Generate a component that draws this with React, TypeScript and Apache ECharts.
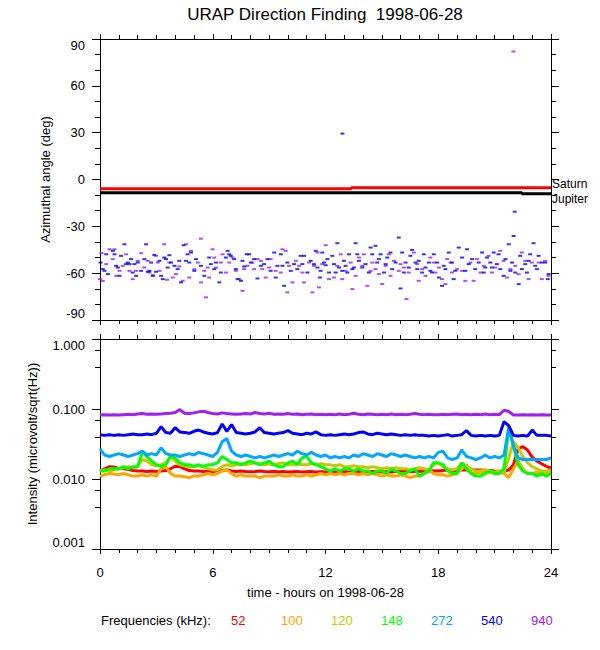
import React, { useEffect, useRef } from 'react';
import * as echarts from 'echarts';

const TITLE = 'URAP Direction Finding  1998-06-28';
const X_NAME = 'time - hours on 1998-06-28';
const Y_TOP_NAME = 'Azimuthal angle (deg)';
const Y_BOT_NAME = 'Intensity (microvolt/sqrt(Hz))';
const LEGEND_TITLE = 'Frequencies (kHz):';
const FREQ_LABELS = ['52', '100', '120', '148', '272', '540', '940'];
const FREQ_COLORS = ['#ff0000', '#ffa500', '#c8c800', '#00ff00', '#00a8ff', '#0000ff', '#a020f0'];

const TIMES = [0,0.25,0.5,0.75,1,1.25,1.5,1.75,2,2.25,2.5,2.75,3,3.25,3.5,3.75,4,4.25,4.5,4.75,5,5.25,5.5,5.75,6,6.25,6.5,6.75,7,7.25,7.5,7.75,8,8.25,8.5,8.75,9,9.25,9.5,9.75,10,10.25,10.5,10.75,11,11.25,11.5,11.75,12,12.25,12.5,12.75,13,13.25,13.5,13.75,14,14.25,14.5,14.75,15,15.25,15.5,15.75,16,16.25,16.5,16.75,17,17.25,17.5,17.75,18,18.25,18.5,18.75,19,19.25,19.5,19.75,20,20.25,20.5,20.75,21,21.25,21.5,21.75,22,22.25,22.5,22.75,23,23.25,23.5,23.75,24];

const F52 = [0.0130,0.0140,0.0150,0.0148,0.0142,
0.0140,0.0138,0.0132,0.0130, 0.0130,0.0128,0.0130,0.0128, 0.0130,0.0132,0.0140,0.0152, 0.0150,0.0140,0.0132,0.0130,
0.0130,0.0128,0.0130,0.0128, 0.0130,0.0132,0.0135,0.0130, 0.0128,0.0130,0.0128,0.0127, 0.0128,0.0130,0.0128,0.0127,
0.0128,0.0127,0.0128,0.0126, 0.0127,0.0128,0.0126,0.0127, 0.0128,0.0126,0.0127,0.0126, 0.0127,0.0126,0.0128,0.0127,
0.0126,0.0127,0.0128,0.0127, 0.0126,0.0128,0.0127,0.0126, 0.0127,0.0126,0.0128,0.0129, 0.0128,0.0127,0.0128,0.0130,
0.0129,0.0130,0.0131,0.0130, 0.0132,0.0134,0.0133,0.0132, 0.0135,0.0134,0.0136,0.0135, 0.0134,0.0133,0.0132,0.0130,
0.0129,0.0128,0.0135,0.0160, 0.0270,0.0290,0.0260,0.0205, 0.0180,0.0165,0.0152,0.0143];

const F100 = [0.0110,0.0115,0.0120,0.0118,0.0115,
0.0120,0.0115,0.0110,0.0110, 0.0115,0.0110,0.0115,0.0110, 0.0140,0.0150,0.0120,0.0110, 0.0110,0.0108,0.0105,0.0110,
0.0110,0.0115,0.0120,0.0115, 0.0120,0.0130,0.0135,0.0120, 0.0110,0.0115,0.0110,0.0110, 0.0110,0.0105,0.0110,0.0110,
0.0110,0.0115,0.0110,0.0110, 0.0115,0.0110,0.0110,0.0115, 0.0110,0.0115,0.0120,0.0115, 0.0120,0.0115,0.0120,0.0115,
0.0120,0.0120,0.0115,0.0120, 0.0115,0.0120,0.0115,0.0110, 0.0115,0.0110,0.0110,0.0115, 0.0110,0.0105,0.0110,0.0110,
0.0120,0.0135,0.0120,0.0115, 0.0115,0.0110,0.0115,0.0120, 0.0140,0.0160,0.0120,0.0120, 0.0125,0.0120,0.0125,0.0120,
0.0125,0.0120,0.0105,0.0140, 0.0180,0.0140,0.0120,0.0120, 0.0125,0.0120,0.0120,0.0125];

const F120 = [0.0130,0.0135,0.0130,0.0135,0.0140,
0.0145,0.0150,0.0145,0.0150, 0.0190,0.0180,0.0160,0.0155, 0.0160,0.0170,0.0210,0.0180, 0.0160,0.0155,0.0150,0.0150,
0.0155,0.0150,0.0140,0.0135, 0.0135,0.0150,0.0160,0.0155, 0.0160,0.0165,0.0160,0.0165, 0.0170,0.0165,0.0160,0.0165,
0.0160,0.0165,0.0170,0.0160, 0.0160,0.0165,0.0160,0.0160, 0.0165,0.0160,0.0165,0.0160, 0.0160,0.0155,0.0160,0.0150,
0.0150,0.0155,0.0150,0.0150, 0.0145,0.0150,0.0145,0.0140, 0.0145,0.0140,0.0145,0.0140, 0.0140,0.0135,0.0140,0.0145,
0.0140,0.0135,0.0160,0.0170, 0.0150,0.0140,0.0135,0.0140, 0.0170,0.0150,0.0140,0.0130, 0.0130,0.0135,0.0130,0.0125,
0.0130,0.0125,0.0200,0.0340, 0.0280,0.0210,0.0170,0.0150, 0.0140,0.0130,0.0130,0.0135];

const F148 = [0.013,0.013,0.014,0.014,0.014,
0.015,0.014,0.015,0.015, 0.024,0.021,0.018,0.016, 0.015,0.016,0.021,0.020, 0.017,0.016,0.016,0.015,
0.016,0.015,0.016,0.016, 0.017,0.021,0.019,0.017, 0.017,0.016,0.017,0.018, 0.017,0.016,0.017,0.018,
0.016,0.015,0.015,0.017, 0.018,0.016,0.020,0.021, 0.017,0.016,0.015,0.014, 0.013,0.014,0.013,0.014,
0.014,0.013,0.014,0.013, 0.013,0.012,0.013,0.013, 0.012,0.014,0.013,0.012, 0.012,0.013,0.014,0.011,
0.012,0.013,0.017,0.017, 0.016,0.013,0.012,0.012, 0.017,0.014,0.012,0.011, 0.011,0.012,0.013,0.012,
0.012,0.014,0.052,0.030, 0.016,0.013,0.012,0.012, 0.011,0.012,0.011,0.012];

const F272 = [0.027,0.022,0.021,0.022,0.023,
0.022,0.021,0.022,0.023, 0.025,0.022,0.023,0.022, 0.028,0.023,0.022,0.022, 0.021,0.022,0.023,0.022,
0.024,0.023,0.022,0.021, 0.024,0.034,0.038,0.025, 0.022,0.021,0.022,0.021, 0.020,0.021,0.020,0.021,
0.022,0.021,0.022,0.023, 0.022,0.025,0.023,0.022, 0.024,0.022,0.021,0.022, 0.020,0.021,0.020,0.021,
0.020,0.022,0.021,0.023, 0.022,0.021,0.023,0.022, 0.021,0.023,0.022,0.021, 0.022,0.021,0.020,0.021,
0.020,0.021,0.020,0.024, 0.025,0.020,0.019,0.020, 0.026,0.021,0.020,0.019, 0.020,0.022,0.020,0.021,
0.020,0.022,0.055,0.030, 0.020,0.019,0.019,0.019, 0.019,0.019,0.019,0.020];

const F540 = [0.043,0.042,0.043,0.042,0.043,
0.042,0.043,0.044,0.043, 0.043,0.044,0.043,0.045, 0.056,0.046,0.045,0.054, 0.047,0.046,0.045,0.048,
0.050,0.047,0.045,0.044, 0.046,0.061,0.048,0.060, 0.046,0.045,0.044,0.045, 0.047,0.054,0.046,0.045,
0.044,0.045,0.046,0.049, 0.045,0.044,0.043,0.045, 0.044,0.047,0.043,0.042, 0.043,0.042,0.043,0.044,
0.043,0.044,0.046,0.047, 0.044,0.043,0.045,0.044, 0.043,0.044,0.043,0.042, 0.043,0.042,0.043,0.042,
0.042,0.041,0.042,0.041, 0.042,0.043,0.041,0.042, 0.043,0.049,0.042,0.041, 0.042,0.041,0.042,0.041,
0.042,0.066,0.058,0.042, 0.041,0.042,0.041,0.050, 0.042,0.042,0.042,0.041];

const F940 = [0.082,0.083,0.082,0.083,0.082,
0.083,0.084,0.083,0.085, 0.086,0.084,0.085,0.084, 0.085,0.086,0.087,0.089, 0.098,0.087,0.086,0.088,
0.091,0.093,0.089,0.086, 0.085,0.088,0.086,0.085, 0.084,0.085,0.086,0.085, 0.089,0.086,0.085,0.087,
0.084,0.085,0.084,0.086, 0.084,0.085,0.083,0.084, 0.085,0.083,0.084,0.083, 0.084,0.083,0.085,0.083,
0.084,0.087,0.084,0.083, 0.085,0.084,0.083,0.084, 0.083,0.085,0.083,0.084, 0.083,0.084,0.086,0.084,
0.083,0.084,0.083,0.083, 0.084,0.083,0.084,0.085, 0.083,0.084,0.083,0.084, 0.083,0.085,0.083,0.084,
0.083,0.096,0.092,0.082, 0.082,0.083,0.082,0.083, 0.082,0.083,0.082,0.082];

const INTENSITIES = [F52, F100, F120, F148, F272, F540, F940];

// Direction-finding azimuths [hour, deg]
const DF540 = [[0.03,-53.2],[0.15,-57.4],[0.24,-58.5],[0.33,-47.9],[0.42,-60.6],[0.68,-45.7],[0.77,-47.9],[0.86,-55.3],[0.95,-56.4],[1.04,-61.7],[1.12,-48.9],[1.30,-41.5],[1.39,-54.2],[1.48,-53.2],[1.57,-54.2],[1.65,-51.0],[1.74,-59.6],[1.83,-54.2],[1.92,-61.7],[2.01,-53.2],[2.19,-58.5],[2.36,-51.0],[2.45,-41.5],[2.54,-59.1],[2.63,-58.5],[2.72,-53.2],[2.81,-61.7],[2.89,-48.3],[2.98,-59.1],[3.16,-52.1],[3.25,-61.7],[3.34,-63.8],[3.42,-50.0],[3.51,-51.0],[3.60,-56.4],[3.69,-48.5],[3.78,-53.2],[3.96,-55.3],[4.13,-57.4],[4.22,-52.1],[4.31,-65.9],[4.45,-42.1],[4.58,-52.1],[4.66,-47.9],[4.75,-53.2],[4.84,-46.8],[5.02,-58.5],[5.11,-51.0],[5.37,-55.3],[5.55,-61.7],[5.81,-50.0],[5.90,-54.2],[6.08,-57.4],[6.17,-53.2],[6.35,-65.9],[6.43,-59.6],[6.70,-50.0],[6.79,-45.7],[6.88,-47.9],[6.96,-48.9],[7.14,-51.0],[7.23,-57.4],[7.32,-63.8],[7.50,-64.9],[7.58,-52.1],[7.67,-55.7],[7.81,-47.9],[7.94,-47.9],[8.03,-53.2],[8.20,-51.0],[8.38,-63.4],[8.56,-55.3],[8.73,-54.2],[8.91,-51.0],[9.08,-58.5],[9.27,-46.8],[9.35,-62.8],[9.44,-55.3],[9.62,-47.9],[9.71,-55.3],[9.80,-68.1],[9.97,-53.2],[10.15,-58.5],[10.33,-54.2],[10.50,-57.4],[10.68,-48.9],[10.77,-54.2],[10.86,-48.9],[11.04,-59.6],[11.21,-52.1],[11.39,-54.2],[11.48,-45.7],[11.57,-56.4],[11.74,-58.5],[11.83,-46.8],[11.70,-62.8],
[11.92,-53.2],[12.01,-54.9],[12.10,-51.0],[12.19,-59.6],[12.36,-48.9],[12.45,-54.2],[12.54,-59.6],[12.63,-40.8],[12.72,-56.4],[12.89,-58.5],[12.98,-52.1],[13.07,-55.3],[13.16,-59.6],[13.25,-47.9],[13.43,-57.4],[13.51,-56.4],[13.60,-40.8],[13.69,-47.9],[13.78,-52.1],[13.96,-56.4],[14.13,-54.2],[14.31,-59.6],[14.40,-43.6],[14.49,-47.9],[14.66,-42.5],[14.75,-53.2],[14.84,-51.0],[14.93,-47.9],[15.11,-59.6],[15.20,-54.2],[15.28,-50.0],[15.46,-46.8],[15.55,-57.4],[15.73,-53.2],[15.90,-37.2],[15.99,-69.8],[16.08,-46.8],[16.17,-59.6],[16.26,-53.2],[16.43,-56.4],[16.52,-48.9],[16.61,-45.1],[16.79,-53.2],[16.88,-57.4],[16.96,-52.1],[17.14,-59.6],[17.23,-47.9],[17.32,-56.4],[17.50,-53.2],[17.58,-58.5],[17.67,-59.6],[17.76,-47.9],[17.94,-53.2],[18.03,-62.8],[18.20,-68.1],[18.29,-55.3],[18.38,-57.4],[18.56,-46.8],[18.73,-53.2],[18.82,-63.8],[18.91,-58.5],[19.09,-43.6],[19.27,-50.0],[19.44,-58.5],[19.53,-44.7],[19.62,-54.2],[19.80,-51.0],[19.97,-57.4],[20.15,-53.2],[20.33,-46.8],[20.42,-59.6],[20.50,-56.4],[20.59,-50.0],[20.77,-53.2],[20.86,-56.4],[20.95,-46.8],[21.12,-54.2],[21.21,-47.9],[21.30,-57.4],[21.48,-61.7],[21.58,-51.0],[21.75,-41.5],[21.84,-58.5],[21.93,-53.2],[22.01,-36.2],[22.10,-59.6],[22.28,-67.0],[22.36,-48.9],[22.45,-57.4],[22.63,-54.2],[22.72,-59.6],[22.81,-52.1],[22.89,-47.9],[23.07,-40.8],[23.16,-55.3],[23.25,-57.4],[23.34,-48.9],[23.51,-53.2],[23.69,-53.2],[23.87,-60.6],[23.83,-63.8],
[12.9,29.4],[22.07,-20.6]];

const DF940 = [[0.0,-63.8],[0.08,-47.2],[0.15,-64.9],[0.33,-54.2],[0.51,-44.7],[0.68,-51.0],[0.77,-44.7],[0.86,-61.7],[1.04,-58.5],[1.21,-55.3],[1.39,-47.9],[1.57,-58.5],[1.74,-63.8],[1.92,-58.5],[2.01,-52.1],[2.19,-47.2],[2.36,-56.4],[2.54,-52.1],[2.63,-59.6],[2.81,-61.3],[2.98,-48.9],[3.07,-53.2],[3.16,-58.5],[3.42,-41.5],[3.57,-64.2],[3.69,-53.2],[3.87,-62.8],[4.04,-60.6],[4.22,-55.7],[4.40,-64.9],[4.58,-41.5],[4.75,-62.8],[4.84,-45.7],[5.02,-57.4],[5.20,-53.2],[5.37,-65.9],[5.37,-37.9],[5.55,-58.5],[5.64,-75.5],[5.73,-56.4],[5.81,-62.8],[5.99,-44.7],[6.08,-50.0],[6.17,-56.4],[6.43,-53.2],[6.52,-47.9],[6.70,-59.6],[6.88,-53.2],[7.05,-50.0],[7.23,-58.5],[7.41,-63.8],[7.58,-71.3],[7.67,-57.4],[7.85,-55.3],[8.11,-53.2],[8.20,-57.4],[8.38,-51.0],[8.56,-52.1],[8.64,-57.4],[8.82,-62.8],[9.0,-56.4],[9.08,-51.0],[9.35,-58.5],[9.62,-59.6],[9.71,-44.7],[9.88,-45.7],[9.97,-72.3],[10.06,-55.3],[10.24,-65.9],[10.42,-52.1],[10.59,-55.3],[10.77,-59.6],[10.86,-65.9],[11.12,-53.2],[11.30,-72.3],[11.39,-55.3],[11.57,-46.8],
[11.65,-69.1],[11.83,-54.2],[12.01,-42.1],[12.19,-63.8],[12.45,-62.8],[12.63,-55.3],[12.81,-47.9],[12.89,-63.8],[13.07,-58.5],[13.34,-53.2],[13.43,-70.2],[13.60,-61.7],[13.78,-50.0],[13.96,-55.3],[14.04,-47.9],[14.22,-68.1],[14.40,-58.5],[14.49,-53.2],[14.66,-57.4],[14.84,-60.6],[15.02,-67.0],[15.20,-55.3],[15.37,-47.9],[15.46,-61.7],[15.64,-52.1],[15.90,-58.5],[15.99,-54.2],[16.17,-56.4],[16.31,-76.6],[16.43,-59.6],[16.70,-46.8],[16.88,-54.2],[16.96,-64.9],[17.14,-57.4],[17.32,-61.7],[17.58,-50.0],[17.76,-53.2],[17.85,-59.6],[18.03,-56.4],[18.20,-63.8],[18.38,-67.0],[18.47,-51.0],[18.65,-53.2],[18.73,-59.6],[19.0,-57.4],[19.27,-58.5],[19.44,-64.9],[19.71,-53.2],[19.88,-64.9],[20.06,-51.0],[20.24,-59.6],[20.42,-55.3],[20.68,-48.9],[20.86,-59.6],[21.04,-56.4],[21.30,-45.7],[21.48,-52.1],[21.66,-62.8],[21.84,-57.4],[22.10,-55.3],[22.28,-60.6],[22.45,-46.8],[22.63,-52.1],[22.81,-63.8],[22.98,-53.2],[23.34,-53.2],[23.51,-63.8],[23.69,-52.1],[23.87,-61.7],
[22.0,82.0]];

const SATURN = [[0, -5.9], [13.37, -5.9], [13.37, -5.3], [24, -5.3]];
const JUPITER = [[0, -8.5], [22.45, -8.5], [22.45, -9.1], [24, -9.1]];

const FONT = '"Liberation Sans", Arial, Helvetica, sans-serif';
const BLACK = '#000000';

function xAxisDef(gridIndex: number, position: string, showLabel: boolean, name?: string) {
  return {
    type: 'value', gridIndex, position, min: 0, max: 24, interval: 6,
    name: name || '', nameLocation: 'middle', nameGap: 37,
    nameTextStyle: { color: BLACK, fontSize: 13, fontFamily: FONT },
    axisLine: { show: true, onZero: false, lineStyle: { color: BLACK, width: 1 } },
    axisTick: { show: true, length: 5, lineStyle: { color: BLACK, width: 1 } },
    minorTick: { show: true, splitNumber: 6, length: 4, lineStyle: { color: BLACK, width: 1 } },
    splitLine: { show: false },
    axisLabel: { show: showLabel, color: BLACK, fontSize: 13, fontFamily: FONT, margin: 17 },
  };
}

function yAxisCommon(gridIndex: number, position: string, showLabel: boolean) {
  return {
    gridIndex, position,
    axisLine: { show: true, onZero: false, lineStyle: { color: BLACK, width: 1 } },
    axisTick: { show: true, length: 8, lineStyle: { color: BLACK, width: 1 } },
    minorTick: { show: true, splitNumber: 3, length: 5, lineStyle: { color: BLACK, width: 1 } },
    splitLine: { show: false },
    axisLabel: {
      show: showLabel, color: BLACK, fontSize: 13, fontFamily: FONT, margin: 15,
      verticalAlignMaxLabel: 'top', verticalAlignMinLabel: 'bottom',
    },
    nameLocation: 'middle',
    nameTextStyle: { color: BLACK, fontSize: 13, fontFamily: FONT },
  };
}

export default function App() {
  const ref = useRef<HTMLDivElement>(null);
  useEffect(() => {
    if (!ref.current) return;
    const chart = echarts.init(ref.current, null, { renderer: 'svg' });

    const legendGraphics: any[] = [
      { type: 'text', x: 101, y: 620, style: { text: LEGEND_TITLE, fill: BLACK, fontSize: 13, fontFamily: FONT, textVerticalAlign: 'middle' } },
    ];
    FREQ_LABELS.forEach((lab, i) => {
      legendGraphics.push({
        type: 'text', x: 231 + 50 * i, y: 620,
        style: { text: lab, fill: FREQ_COLORS[i], fontSize: 13, fontFamily: FONT, textVerticalAlign: 'middle' },
      });
    });

    const intensitySeries = INTENSITIES.map((arr, i) => ({
      type: 'line', name: FREQ_LABELS[i], xAxisIndex: 2, yAxisIndex: 2,
      data: TIMES.map((t, j) => [t, arr[j]]),
      showSymbol: false, symbol: 'none',
      lineStyle: { color: FREQ_COLORS[i], width: 3 },
      itemStyle: { color: FREQ_COLORS[i] },
      z: 2 + i,
    }));

    const option: any = {
      animation: false,
      backgroundColor: '#ffffff',
      textStyle: { fontFamily: FONT },
      grid: [
        { left: 100, top: 39, width: 451, height: 281, containLabel: false, outerBoundsMode: 'none' },
        { left: 100, top: 339, width: 451, height: 210, containLabel: false, outerBoundsMode: 'none' },
      ],
      graphic: [
        { type: 'text', x: 325, y: 14, style: { text: TITLE, fill: BLACK, fontSize: 17, fontFamily: FONT, textAlign: 'center', textVerticalAlign: 'middle' } },
        ...legendGraphics,
      ],
      xAxis: [
        xAxisDef(0, 'bottom', false),
        xAxisDef(0, 'top', false),
        xAxisDef(1, 'bottom', true, X_NAME),
        xAxisDef(1, 'top', false),
      ],
      yAxis: [
        { ...yAxisCommon(0, 'left', true), type: 'value', min: -90, max: 90, interval: 30, name: Y_TOP_NAME, nameGap: 48 },
        { ...yAxisCommon(0, 'right', false), type: 'value', min: -90, max: 90, interval: 30 },
        { ...yAxisCommon(1, 'left', true), type: 'log', logBase: 10, min: 0.001, max: 1, splitNumber: 3, name: Y_BOT_NAME, nameGap: 61,
          axisLabel: { ...yAxisCommon(1, 'left', true).axisLabel, formatter: (v: number) => v.toFixed(3) } },
        { ...yAxisCommon(1, 'right', false), type: 'log', logBase: 10, min: 0.001, max: 1, splitNumber: 3 },
      ],
      series: [
        {
          type: 'scatter', name: '940 az', xAxisIndex: 0, yAxisIndex: 0, data: DF940,
          symbol: 'rect', symbolSize: [4, 2], itemStyle: { color: FREQ_COLORS[6] }, z: 2,
        },
        {
          type: 'scatter', name: '540 az', xAxisIndex: 0, yAxisIndex: 0, data: DF540,
          symbol: 'rect', symbolSize: [4, 2], itemStyle: { color: FREQ_COLORS[5] }, z: 3,
        },
        {
          type: 'line', name: 'Saturn', xAxisIndex: 0, yAxisIndex: 0, data: SATURN,
          showSymbol: false, symbol: 'none', lineStyle: { color: '#ff0000', width: 3 }, z: 4,
          endLabel: { show: true, formatter: 'Saturn', color: BLACK, fontSize: 12, fontFamily: FONT, distance: 1, offset: [0, -4], lineHeight: 12 },
        },
        {
          type: 'line', name: 'Jupiter', xAxisIndex: 0, yAxisIndex: 0, data: JUPITER,
          showSymbol: false, symbol: 'none', lineStyle: { color: BLACK, width: 3 }, z: 5,
          endLabel: { show: true, formatter: 'Jupiter', color: BLACK, fontSize: 12, fontFamily: FONT, distance: 1, offset: [0, 5], lineHeight: 12 },
        },
        ...intensitySeries,
      ],
    };
    chart.setOption(option);
    return () => chart.dispose();
  }, []);
  return <div ref={ref} style={{ position: 'absolute', left: 0, top: 0, width: 600, height: 650, background: '#fff' }} />;
}
